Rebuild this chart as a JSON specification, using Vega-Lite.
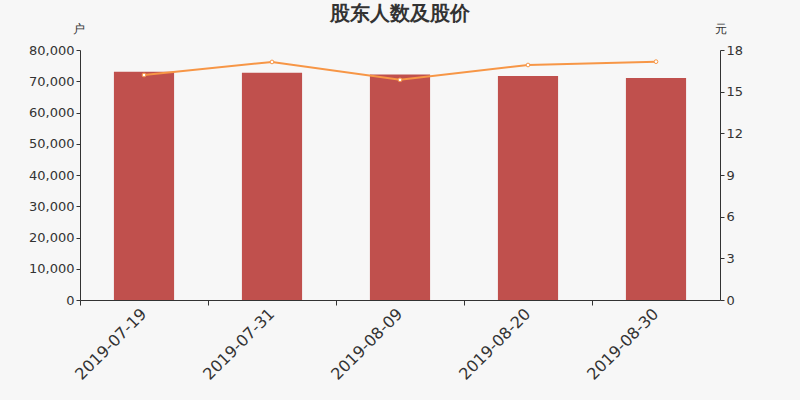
{
  "$schema": "https://vega.github.io/schema/vega-lite/v6.json",
  "autosize": "none",
  "width": 640,
  "height": 250,
  "padding": {"left": 80, "top": 50, "right": 80, "bottom": 100},
  "background": "#f7f7f7",
  "title": {
    "text": "股东人数及股价",
    "fontSize": 19.5,
    "fontWeight": "bold",
    "color": "#333333",
    "font": "DejaVu Sans",
    "offset": 4,
    "dy": 6
  },
  "config": {
    "view": {"stroke": null},
    "axis": {
      "labelFont": "DejaVu Sans",
      "titleFont": "DejaVu Sans",
      "labelColor": "#333333",
      "titleColor": "#333333",
      "domainColor": "#333333",
      "tickColor": "#333333",
      "grid": false
    }
  },
  "data": {
    "values": [
      {"date": "2019-07-19", "holders": 73050, "price": 16.2},
      {"date": "2019-07-31", "holders": 72750, "price": 17.14},
      {"date": "2019-08-09", "holders": 72200, "price": 15.85},
      {"date": "2019-08-20", "holders": 71650, "price": 16.92},
      {"date": "2019-08-30", "holders": 71050, "price": 17.16}
    ]
  },
  "encoding": {
    "x": {
      "field": "date",
      "type": "nominal",
      "sort": null,
      "scale": {"paddingInner": 0, "paddingOuter": 0},
      "axis": {
        "title": null,
        "labelAngle": -45,
        "labelFontSize": 16,
        "labelAlign": "right",
        "labelBaseline": "middle",
        "bandPosition": 0,
        "labelPadding": 6,
        "tickSize": 5
      }
    }
  },
  "layer": [
    {
      "mark": {"type": "bar", "color": "#c0504d", "width": {"band": 0.47}},
      "encoding": {
        "y": {
          "field": "holders",
          "type": "quantitative",
          "scale": {"domain": [0, 80000]},
          "axis": {
            "title": "户",
            "titleAngle": 0,
            "titleX": -2,
            "titleY": -15,
            "titleFontSize": 12,
            "titleFontWeight": "normal",
            "labelFontSize": 13,
            "tickCount": 8,
            "format": ",d",
            "tickSize": 4
          }
        }
      }
    },
    {
      "mark": {
        "type": "line",
        "color": "#f79646",
        "strokeWidth": 2,
        "point": {"filled": true, "fill": "white", "stroke": "#f79646", "strokeWidth": 1, "size": 14}
      },
      "encoding": {
        "y": {
          "field": "price",
          "type": "quantitative",
          "scale": {"domain": [0, 18]},
          "axis": {
            "orient": "right",
            "title": "元",
            "titleAngle": 0,
            "titleX": 0,
            "titleY": -15,
            "titleFontSize": 12,
            "titleFontWeight": "normal",
            "labelFontSize": 13,
            "values": [0, 3, 6, 9, 12, 15, 18],
            "tickSize": 4
          }
        }
      }
    }
  ],
  "resolve": {"scale": {"y": "independent"}}
}
